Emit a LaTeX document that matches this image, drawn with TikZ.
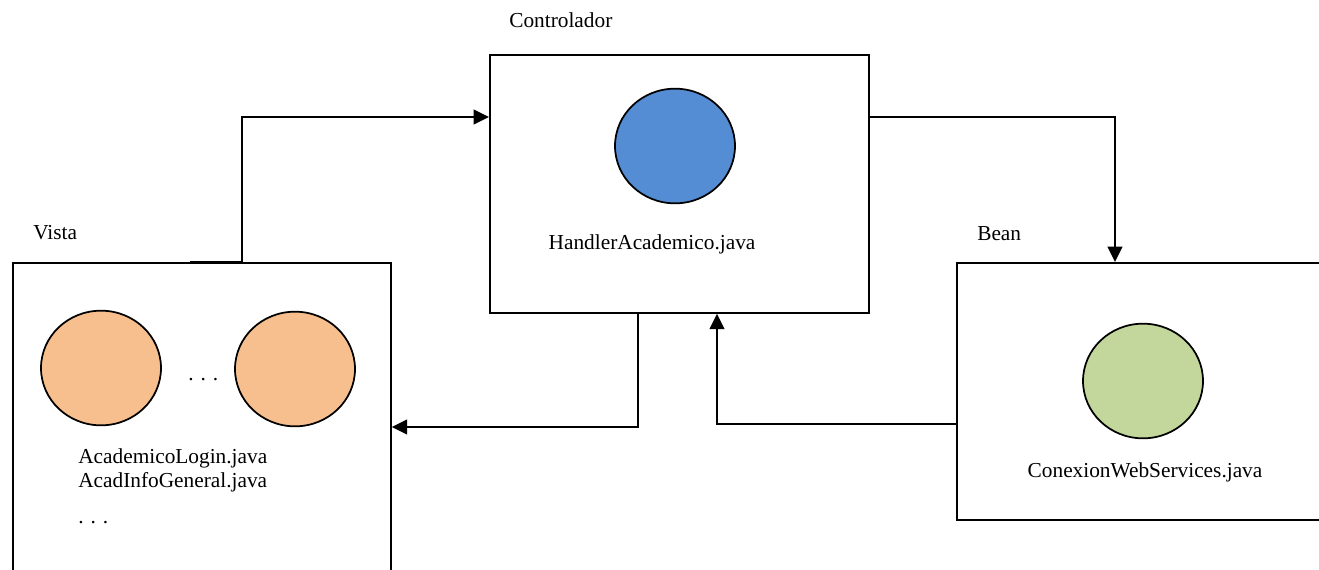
\documentclass[tikz,border=0pt]{standalone}
\usepackage{fontspec}
\setmainfont{Liberation Serif}
\usetikzlibrary{arrows.meta,calc,shapes.geometric}
\definecolor{orangefill}{HTML}{F8BF8E}
\definecolor{bluefill}{HTML}{548DD4}
\definecolor{greenfill}{HTML}{C3D69B}
\newcommand{\spdots}{.\hspace{5.2pt}.\hspace{5.2pt}.}
\begin{document}
\begin{tikzpicture}[x=0.75pt,y=-0.75pt,
  box/.style={draw,line width=1.3pt,rectangle,anchor=north west,inner sep=0pt},
  comp/.style={draw,line width=1.3pt,ellipse,inner sep=0pt,minimum width=90pt,minimum height=86pt},
  lbl/.style={font=\fontsize{16pt}{19pt}\selectfont,inner sep=0pt},
  conn/.style={line width=1.6pt,-{Triangle[length=11.5pt,width=11pt]}},
  plain/.style={line width=1.6pt}]
\useasboundingbox (0,0) rectangle (1319,569);
\clip (0,0) rectangle (1319,569);
% boxes
\node[box,minimum width=283.5pt,minimum height=270pt] (vista) at (12,262) {};
\node[box,minimum width=284.25pt,minimum height=193.5pt] (ctrl) at (489,54) {};
\node[box,minimum width=285pt,minimum height=192.75pt] (bean) at (956,262) {};
% titles
\node[lbl,anchor=west] (tctrl) at (509,20) {Controlador};
\node[lbl,anchor=west] (tvista) at (33,233) {Vista};
\node[lbl,anchor=west] (tbean) at (977,234) {Bean};
% components
\node[comp,fill=orangefill] (c1) at (101,368) {};
\node[comp,fill=orangefill] (c2) at (295,369) {};
\node[lbl,anchor=base west] (dots1) at (188,380) {\spdots};
\node[comp,fill=bluefill] (c3) at (675,146) {};
\node[comp,fill=greenfill] (c4) at (1143,381) {};
% texts
\node[lbl,anchor=west] (t1) at (78,458) {AcademicoLogin.java};
\node[lbl,anchor=west] (t2) at (78,482) {AcadInfoGeneral.java};
\node[lbl,anchor=base west] (dots2) at (78,523) {\spdots};
\node[lbl] (t3) at (652,244) {HandlerAcademico.java};
\node[lbl] (t4) at (1145,472) {ConexionWebServices.java};
% connectors
\coordinate (v1) at ($(vista.north west)+(178,0)$);
\coordinate (v2) at ($(vista.north west)+(230,0)$);
\draw[plain] (v1) -- (v2);
\draw[conn] (v2) |- ($(ctrl.north west)+(0,63)$);
\draw[conn] ($(ctrl.north east)+(0,63)$) -| ($(bean.north west)+(159,0)$);
\draw[conn] ($(ctrl.south west)+(149,0)$) |- ($(vista.north east)+(0,165)$);
\draw[conn] ($(bean.north west)+(0,162)$) -| ($(ctrl.south west)+(228,0)$);
\end{tikzpicture}
\end{document}
